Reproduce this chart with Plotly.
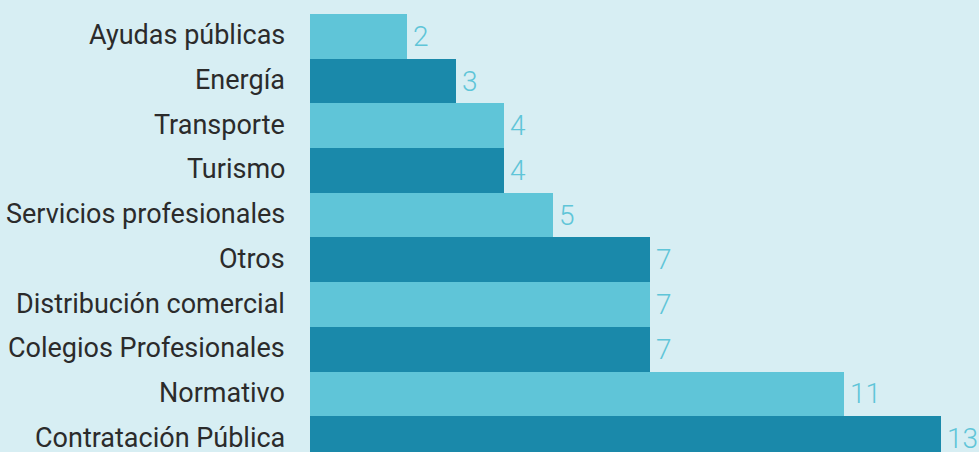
import plotly.graph_objects as go

categories = ["Ayudas públicas", "Energía", "Transporte", "Turismo",
              "Servicios profesionales", "Otros", "Distribución comercial",
              "Colegios Profesionales", "Normativo", "Contratación Pública"]
values = [2, 3, 4, 4, 5, 7, 7, 7, 11, 13]
light = "#5fc5d8"
dark = "#1a89aa"
colors = [light if i % 2 == 0 else dark for i in range(len(values))]
idx = list(range(len(values)))

fig = go.Figure(go.Bar(
    x=values, y=idx, orientation="h",
    marker=dict(color=colors, line=dict(width=0)),
    hoverinfo="skip",
))
for v, i, c in zip(values, idx, categories):
    fig.add_annotation(x=v, y=i, text=str(v), showarrow=False,
                       xanchor="left", yanchor="middle", xshift=4, yshift=0,
                       font=dict(family="Roboto", weight=300, size=28, color=light))
    fig.add_annotation(x=0, y=i, text=c, showarrow=False,
                       xanchor="right", yanchor="middle", xshift=-23, yshift=1,
                       font=dict(family="Roboto", size=27, color="#2b2b2b"))

fig.update_layout(
    width=979, height=452,
    margin=dict(l=310, r=0, t=14, b=0),
    paper_bgcolor="#d7eef3", plot_bgcolor="#d7eef3",
    bargap=0, showlegend=False,
)
fig.update_xaxes(range=[0, 13.79], visible=False, fixedrange=True)
fig.update_yaxes(range=[9.3, -0.5], showticklabels=False,
                 showgrid=False, zeroline=False, ticks="", fixedrange=True)
fig.write_html("out.html", config={"displayModeBar": False},
               post_script="document.body.style.margin='0';document.body.style.padding='0';document.body.style.overflow='hidden';")
